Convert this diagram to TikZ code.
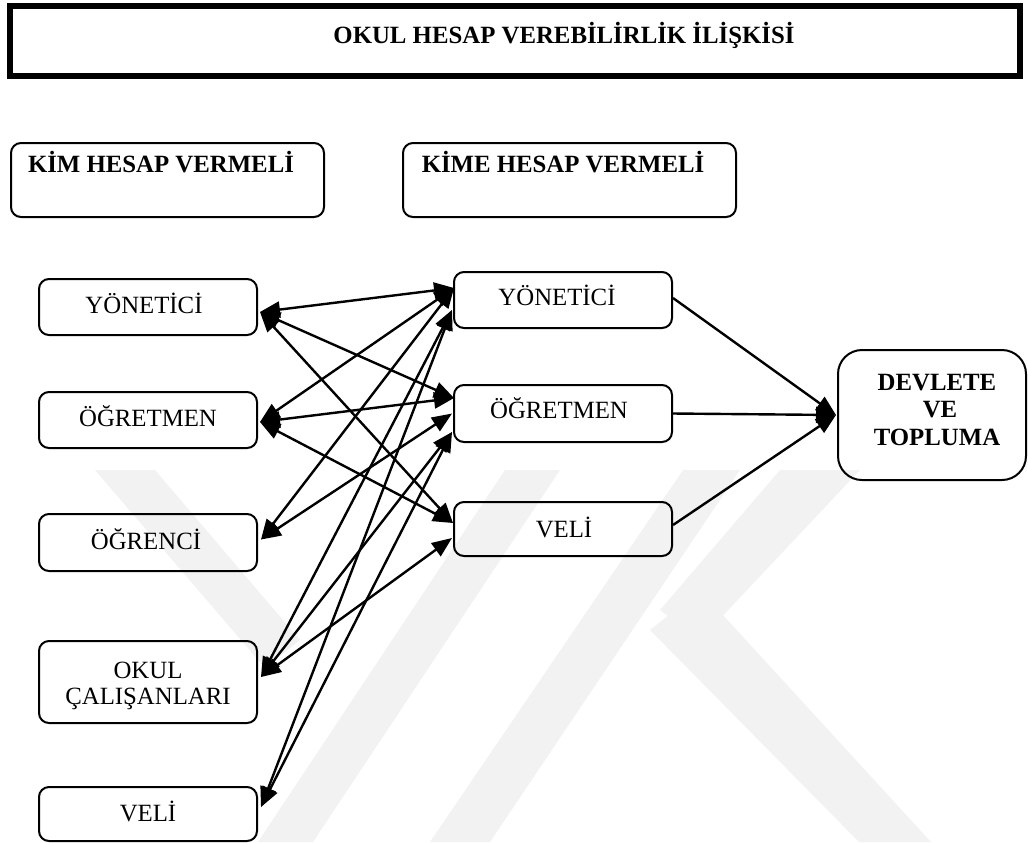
\documentclass[tikz,border=0pt]{standalone}
\usepackage{fontspec}
\setmainfont{Liberation Serif}
\usetikzlibrary{arrows.meta,calc}
\begin{document}
\begin{tikzpicture}[x=0.5pt,y=-0.5pt,
  box/.style={draw, line width=1pt, rounded corners=5pt, inner sep=0pt, minimum width=109pt},
  lbl/.style={anchor=base, font=\fontsize{12.4}{14}\selectfont, inner sep=0pt},
  blbl/.style={anchor=base, font=\fontsize{12.4}{14}\selectfont\bfseries, inner sep=0pt},
  link/.style={line width=1.2pt, {Triangle[length=10pt,width=8pt]}-{Triangle[length=10pt,width=8pt]}},
  feed/.style={line width=1.2pt, -{Triangle[length=10pt,width=8pt]}},
  wm/.style={fill=black!5, draw=none}]
\useasboundingbox (0,0) rectangle (1028,842);
% watermark
\fill[wm] (95,470) -- (155,470) -- (300,640) -- (265,668) -- cycle;
\fill[wm] (505,470) -- (560,470) -- (313,842) -- (258,842) -- cycle;
\fill[wm] (683,470) -- (740,470) -- (490,842) -- (430,842) -- cycle;
\fill[wm] (780,470) -- (860,470) -- (700,640) -- (660,610) -- cycle;
\fill[wm] (650,630) -- (700,590) -- (931,842) -- (859,842) -- cycle;
% title
\node[draw, line width=3pt, inner sep=0pt, minimum width=505pt, minimum height=35pt] (title) at (515,41) {};
\node[blbl] (titletxt) at (564,43) {OKUL HESAP VEREBİLİRLİK İLİŞKİSİ};
% headers
\node[box, minimum width=156.5pt, minimum height=37pt] (kim) at (167.5,180) {};
\node[blbl] (kimtxt) at (161,172) {KİM HESAP VERMELİ};
\node[box, minimum width=166.5pt, minimum height=37pt] (kime) at (569.5,180) {};
\node[blbl] (kimetxt) at (563,172) {KİME HESAP VERMELİ};
% left column
\node[box, minimum height=28pt] (y1) at (148,307) {};
\node[lbl] (y1t) at (144,313) {YÖNETİCİ};
\node[box, minimum height=28pt] (o1) at (148,420) {};
\node[lbl] (o1t) at (148,426) {ÖĞRETMEN};
\node[box, minimum height=28.5pt] (o2) at (148,542.5) {};
\node[lbl] (o2t) at (146,549) {ÖĞRENCİ};
\node[box, minimum height=41pt] (oc) at (148,682) {};
\node[lbl] (oct1) at (148,678) {OKUL};
\node[lbl] (oct2) at (148,704) {ÇALIŞANLARI};
\node[box, minimum height=27pt] (v1) at (148,814) {};
\node[lbl] (v1t) at (148,821) {VELİ};
% middle column
\node[box, minimum height=28pt] (y2) at (563,300) {};
\node[lbl] (y2t) at (557,305) {YÖNETİCİ};
\node[box, minimum height=28.5pt] (o3) at (563,413.5) {};
\node[lbl] (o3t) at (559,418) {ÖĞRETMEN};
\node[box, minimum height=27pt] (v2) at (563,529) {};
\node[lbl] (v2t) at (564,537) {VELİ};
% right
\node[draw, line width=1pt, rounded corners=12pt, inner sep=0pt, minimum width=94pt, minimum height=65pt] (dev) at (932,415) {};
\node[blbl] (devt1) at (937,390) {DEVLETE};
\node[blbl] (devt2) at (940,417) {VE};
\node[blbl] (devt3) at (937,445) {TOPLUMA};
% ports
\coordinate (y1p) at ($(y1.east)+(2,5)$);
\coordinate (o1p) at ($(o1.east)+(2,2)$);
\coordinate (o2p) at ($(o2.east)+(3,-3)$);
\coordinate (ocp) at ($(oc.east)+(3,-5)$);
\coordinate (v1p) at ($(v1.east)+(3,-7)$);
\coordinate (y2a) at ($(y2.west)+(1,-12)$);
\coordinate (y2b) at ($(y2.west)+(-1,10)$);
\coordinate (o3a) at ($(o3.west)+(1,-15.5)$);
\coordinate (o3b) at ($(o3.west)+(-1,0)$);
\coordinate (o3c) at ($(o3.west)+(-1,18.5)$);
\coordinate (v2a) at ($(v2.west)+(0,-6)$);
\coordinate (v2b) at ($(v2.west)+(-1,9)$);
\coordinate (devp) at ($(dev.west)+(-1,0)$);
% links
\draw[link] (y1p) -- (y2a);
\draw[link] (y1p) -- (o3a);
\draw[link] (y1p) -- (v2a);
\draw[link] (o1p) -- (y2a);
\draw[link] (o1p) -- (o3a);
\draw[link] (o1p) -- (v2a);
\draw[link] (o2p) -- (y2a);
\draw[link] (o2p) -- (o3b);
\draw[link] (ocp) -- (y2b);
\draw[link] (ocp) -- (o3c);
\draw[link] (ocp) -- (v2b);
\draw[link] (v1p) -- (y2b);
\draw[link] (v1p) -- (o3c);
% feeds
\draw[feed] ($(y2.east)+(0,-2)$) -- (devp);
\draw[feed] (o3.east) -- (devp);
\draw[feed] ($(v2.east)+(0,-4)$) -- (devp);
\end{tikzpicture}
\end{document}
